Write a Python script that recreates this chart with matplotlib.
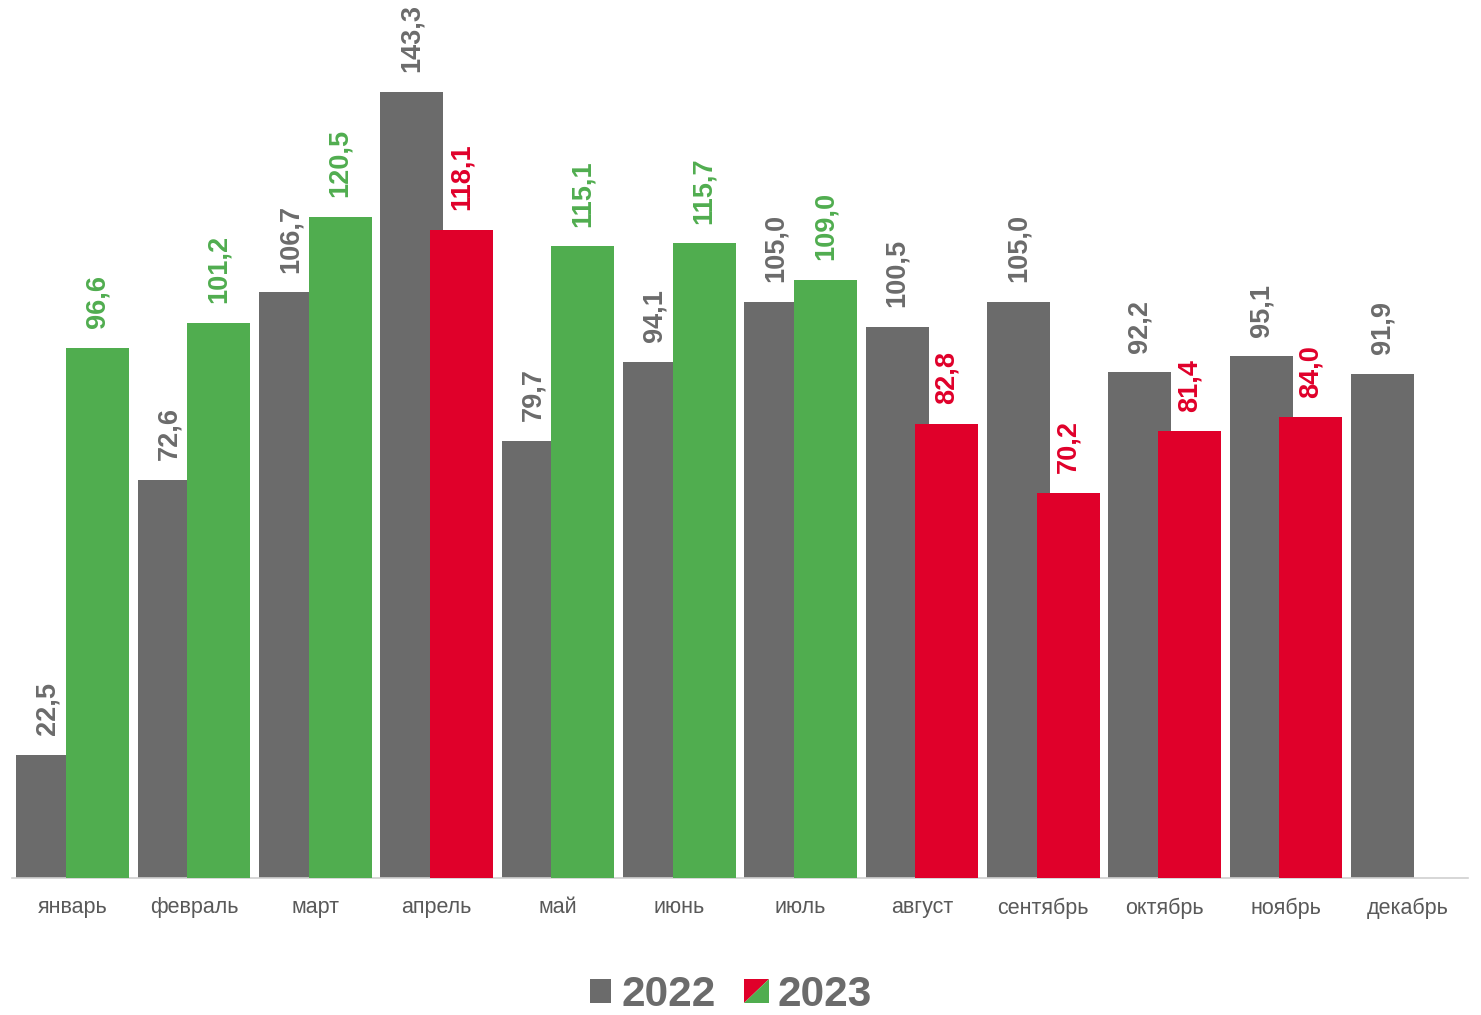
import matplotlib
matplotlib.use('Agg')
import matplotlib.pyplot as plt
import numpy as np
from matplotlib.patches import Polygon, Patch
from matplotlib.legend_handler import HandlerBase

plt.rcParams['font.family'] = ['Liberation Sans', 'DejaVu Sans']

# --- data ---
months = ['январь', 'февраль', 'март', 'апрель', 'май', 'июнь',
          'июль', 'август', 'сентябрь', 'октябрь', 'ноябрь', 'декабрь']
y2022 = [22.5, 72.6, 106.7, 143.3, 79.7, 94.1, 105.0, 100.5, 105.0, 92.2, 95.1, 91.9]
y2023 = [96.6, 101.2, 120.5, 118.1, 115.1, 115.7, 109.0, 82.8, 70.2, 81.4, 84.0]

GRAY = '#6B6B6B'
GREEN = '#50AD4F'
RED = '#E0002A'


class SplitHandler(HandlerBase):
    # квадрат легенды разделен по диагонали: красный / зеленый
    def create_artists(self, legend, orig_handle, xdescent, ydescent,
                       width, height, fontsize, trans):
        s = height
        x0 = (width - s) / 2 - xdescent
        y0 = -ydescent
        red = Polygon([[x0, y0], [x0, y0 + s], [x0 + s, y0 + s]], closed=True,
                      facecolor=RED, edgecolor='none', transform=trans)
        green = Polygon([[x0, y0], [x0 + s, y0], [x0 + s, y0 + s]], closed=True,
                        facecolor=GREEN, edgecolor='none', transform=trans)
        return [red, green]


fig = plt.figure(figsize=(14.81, 10.15), dpi=100)
ax = fig.add_axes([12 / 1481, 137 / 1015, 1456 / 1481, 878 / 1015])

x = np.arange(len(months))
w = 0.52
off = 0.205

ax.bar(x - off, y2022, width=w, color=GRAY, zorder=2)
x23 = x[:len(y2023)] + off
cols23 = [GREEN if b > a else RED for a, b in zip(y2022, y2023)]
ax.bar(x23, y2023, width=w, color=cols23, zorder=3)

def fmt(v):
    return f'{v:.1f}'.replace('.', ',')

for xi, v in zip(x - off, y2022):
    ax.annotate(fmt(v), (xi, v), xytext=(0, 14), textcoords='offset points',
                rotation=90, ha='center', va='bottom', fontsize=19.5,
                fontweight='bold', color=GRAY)
for xi, v, c in zip(x23, y2023, cols23):
    ax.annotate(fmt(v), (xi, v), xytext=(0, 14), textcoords='offset points',
                rotation=90, ha='center', va='bottom', fontsize=19.5,
                fontweight='bold', color=c)

ax.set_xlim(-0.5, len(months) - 0.5)
ax.set_ylim(0, 160)
ax.set_xticks(x)
ax.set_xticklabels(months, fontsize=15.5, color='#595959')
ax.tick_params(axis='x', length=0, pad=14)
ax.set_yticks([])
for sp in ['top', 'right', 'left']:
    ax.spines[sp].set_visible(False)
ax.spines['bottom'].set_color('#D0D0D0')
ax.spines['bottom'].set_linewidth(1.2)

h22 = Patch(facecolor=GRAY)
h23 = Patch(facecolor=GREEN)
fig.legend([h22, h23], ['2022', '2023'], handler_map={h23: SplitHandler()},
           loc='center', bbox_to_anchor=(731 / 1481, 20 / 1015), ncol=2,
           frameon=False, borderpad=0.1,
           prop={'size': 30.5, 'weight': 'bold'}, labelcolor=GRAY,
           handlelength=0.5, handleheight=0.5, handletextpad=0.25,
           columnspacing=0.7)

fig.savefig('out.png', dpi=100)
